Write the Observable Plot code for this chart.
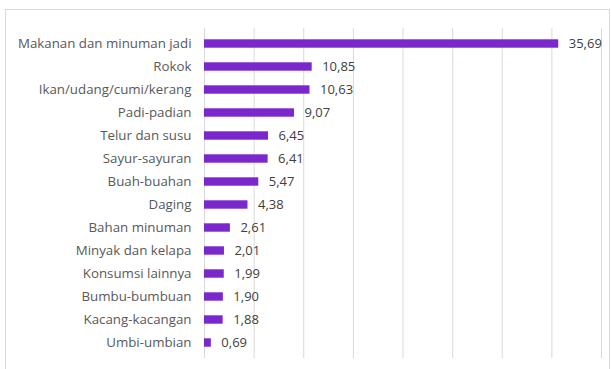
<!DOCTYPE html>
<html>
<head>
<meta charset="utf-8">
<script src="https://cdn.jsdelivr.net/npm/d3@7"></script>
<script src="https://cdn.jsdelivr.net/npm/@observablehq/plot@0.6"></script>
<style>
  html, body { margin: 0; padding: 0; background: #fff; }
  #wrap { position: relative; width: 611px; height: 369px; overflow: hidden; }
  #frame { position: absolute; left: 5px; top: 9px; width: 605px; height: 400px; border: 1px solid #d9d9d9; box-sizing: border-box; }
  #chart { position: absolute; left: 0; top: 0; }
</style>
</head>
<body>
<div id="wrap"><div id="frame"></div><div id="chart"></div></div>
<script>
const categories = [
  "Makanan dan minuman jadi", "Rokok", "Ikan/udang/cumi/kerang", "Padi-padian",
  "Telur dan susu", "Sayur-sayuran", "Buah-buahan", "Daging", "Bahan minuman",
  "Minyak dan kelapa", "Konsumsi lainnya", "Bumbu-bumbuan", "Kacang-kacangan", "Umbi-umbian"
];
const values = [35.69, 10.85, 10.63, 9.07, 6.45, 6.41, 5.47, 4.38, 2.61, 2.01, 1.99, 1.90, 1.88, 0.69];
const gridTicks = [0, 5, 10, 15, 20, 25, 30, 35, 40];

const data = categories.map((c, i) => ({ category: c, value: values[i] }));
const fmt = v => v.toFixed(2).replace(".", ",");

const chart = Plot.plot({
  width: 611,
  height: 369,
  marginLeft: 204,
  marginRight: 10,
  marginTop: 28,
  marginBottom: 11,
  style: { fontFamily: "'Open Sans', sans-serif", fontSize: "12px", background: "transparent" },
  x: { domain: [0, 40], axis: null },
  y: { domain: categories, padding: 0, axis: null },
  marks: [
    Plot.ruleX(gridTicks, { stroke: "#d9d9d9", strokeWidth: 1 }),
    Plot.barX(data, { x: "value", y: "category", fill: "#7a28cc", insetTop: 7.3, insetBottom: 7.3 }),
    Plot.text(data, { x: "value", y: "category", text: d => fmt(d.value), textAnchor: "start", dx: 10, fill: "#404040", fontSize: 13 }),
    Plot.text(data, { x: 0, y: "category", text: "category", textAnchor: "end", dx: -13, fill: "#595959", fontSize: 13.3 })
  ]
});
document.getElementById("chart").appendChild(chart);
</script>
</body>
</html>
